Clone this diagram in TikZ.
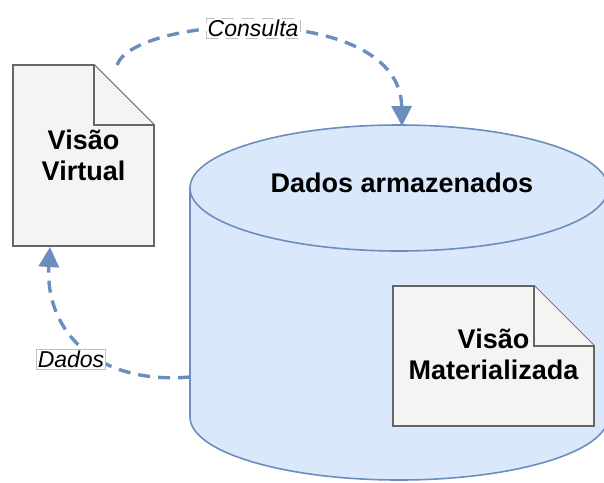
\documentclass[tikz,border=0pt]{standalone}
\usepackage{fontspec}
\setmainfont{Liberation Sans}
\usetikzlibrary{arrows.meta,calc}
\definecolor{linkblue}{HTML}{6C8EBF}
\definecolor{dbfill}{HTML}{DAE8FC}
\definecolor{docfill}{HTML}{F4F4F4}
\definecolor{docline}{HTML}{666666}

\begin{document}
\begin{tikzpicture}[x=1pt,y=-1pt,
    docpath/.style={draw=docline,fill=docfill,line width=1.8pt},
    dbline/.style={draw=linkblue,line width=1.6pt},
    head/.style={font=\fontsize{27}{31}\selectfont\bfseries,align=center},
    lbl/.style={fill=white,draw=black!25,line width=0.7pt,inner sep=1.5pt,font=\fontsize{23}{26}\selectfont\itshape},
    flow/.style={draw=linkblue,line width=3.4pt,dash pattern=on 12pt off 8pt,-{Triangle[width=20pt,length=20pt]}}]
\useasboundingbox (0,0) rectangle (604,482);
	\begin{scope}
	\clip (0,0) rectangle (604,482);
	% cylinder
	\fill[dbfill] (190,188) rectangle (608,417);
	\fill[dbfill] (399,417) ellipse[x radius=209pt,y radius=63pt];
	\draw[dbline] (190,188) -- (190,417) arc[start angle=180,end angle=360,x radius=209pt,y radius=63pt] -- (608,188);
	\draw[dbline,fill=dbfill] (399,188) ellipse[x radius=209pt,y radius=63pt];
	\end{scope}
	\node[head] (db) at (402,183) {Dados\ armazenados};
	% documents
	\draw[docpath] (13,65) -- (94,65) -- (154,125) -- (154,246) -- (13,246) -- cycle;
	\draw[docpath] (94,65) -- (94,125) -- (154,125);
	\node[head,minimum width=141pt,minimum height=181pt] (virt) at (83.5,155.5) {Visão\\Virtual};
	\draw[docpath] (393,286) -- (534,286) -- (594,346) -- (594,426) -- (393,426) -- cycle;
	\draw[docpath] (534,286) -- (534,346) -- (594,346);
	\node[head,minimum width=201pt,minimum height=140pt] (mat) at (493.5,354) {Visão\\Materializada};
	% connectors
	\coordinate (virttop) at (117,65);
	\coordinate (virtbot) at (50,247);
	\coordinate (dbtop) at (402,126);
	\coordinate (dbside) at (190,377);
	\draw[flow] (virttop) .. controls (135,15) and (400,0) .. (dbtop) node[lbl,pos=0.47] (cons) {Consulta};
	\draw[flow] (dbside) .. controls (95,385) and (45,330) .. (virtbot);
	\node[lbl] (dad) at (71,359) {Dados};
\end{tikzpicture}
\end{document}
